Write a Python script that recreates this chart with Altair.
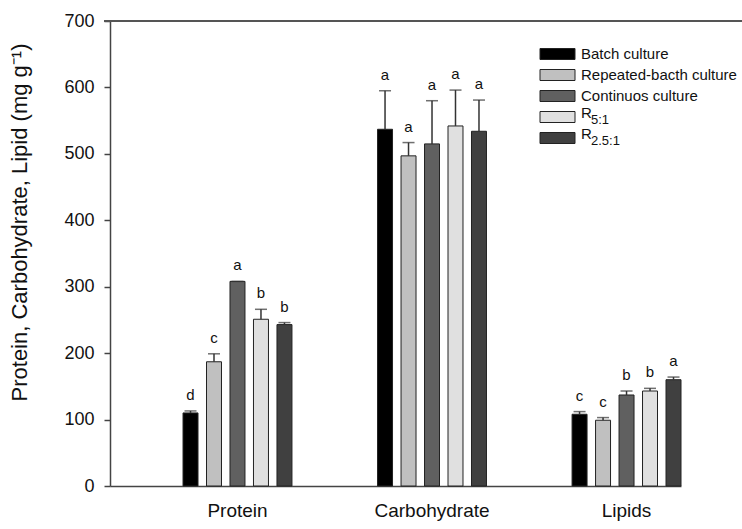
import altair as alt
import pandas as pd

groups = ["Protein", "Carbohydrate", "Lipids"]
series = ["Batch culture", "Repeated-bacth culture", "Continuos culture", "R5:1", "R2.5:1"]
legend_main = ["Batch culture", "Repeated-bacth culture", "Continuos culture", "R", "R"]
legend_sub = ["", "", "", "5:1", "2.5:1"]
colors = ["#000000", "#c0c0c0", "#606060", "#e0e0e0", "#404040"]

protein_mean = [110, 187, 308, 251, 243]
carb_mean = [537, 497, 515, 542, 534]
lipid_mean = [108, 99, 137, 143, 160]
protein_err = [3, 12, 0, 15, 3]
carb_err = [58, 20, 65, 54, 47]
lipid_err = [4, 4, 6, 4, 4]
protein_letters = ["d", "c", "a", "b", "b"]
carb_letters = ["a", "a", "a", "a", "a"]
lipid_letters = ["c", "c", "b", "b", "a"]

rows = []
for g, means, errs, lets in [
    ("Protein", protein_mean, protein_err, protein_letters),
    ("Carbohydrate", carb_mean, carb_err, carb_letters),
    ("Lipids", lipid_mean, lipid_err, lipid_letters),
]:
    for s, m, e, l in zip(series, means, errs, lets):
        rows.append({"group": g, "series": s, "mean": m, "upper": m + e, "letter": l})
df = pd.DataFrame(rows)

W, H = 571, 465
FONT = "Liberation Sans"

xenc = alt.X("group:N", sort=groups,
             scale=alt.Scale(paddingInner=0.44, paddingOuter=0.1877, align=1),
             axis=alt.Axis(title=None, ticks=False, labelAngle=0, labelFontSize=19,
                           labelPadding=15, labelColor="#111", labelFont=FONT,
                           domainColor="#444", domainWidth=1.5))
xoff = alt.XOffset("series:N", sort=series, scale=alt.Scale(paddingInner=0.362, paddingOuter=0))
yscale = alt.Scale(domain=[0, 700], nice=False)
yaxis = alt.Axis(title="Protein, Carbohydrate, Lipid (mg g\u207b\u00b9)", values=list(range(0, 701, 100)),
                 grid=False, tickSize=6, tickColor="#444", tickWidth=1.5, domainColor="#444",
                 domainWidth=1.5, labelFontSize=18, labelPadding=10, labelColor="#111",
                 labelFont=FONT, titleFont=FONT, titleFontSize=22, titleFontWeight="normal",
                 titleColor="#111", titleX=-91, titleY=201, titleBaseline="middle")
color = alt.Color("series:N", scale=alt.Scale(domain=series, range=colors), legend=None)

base = alt.Chart(df)
bars = base.mark_bar(stroke="#222", strokeWidth=1).encode(
    x=xenc, xOffset=xoff, y=alt.Y("mean:Q", scale=yscale, axis=yaxis), color=color)
err = base.mark_rule(color="#333", strokeWidth=1.5).encode(
    x=xenc, xOffset=xoff, y=alt.Y("mean:Q", scale=yscale), y2="upper:Q")
cap = base.mark_tick(color="#333", thickness=1.5, size=12, orient="horizontal").encode(
    x=xenc, xOffset=xoff, y=alt.Y("upper:Q", scale=yscale))
letters = base.mark_text(fontSize=15, font=FONT, color="#111", dy=-11, baseline="alphabetic").encode(
    x=xenc, xOffset=xoff, y=alt.Y("upper:Q", scale=yscale), text="letter:N")
top = alt.Chart(pd.DataFrame({"v": [700]})).mark_rule(color="#555", strokeWidth=2).encode(
    y=alt.Y("v:Q", scale=yscale), x=alt.value(-6), x2=alt.value(W + 70))

main = alt.layer(bars, err, cap, letters, top)

leg = pd.DataFrame({"series": series, "main": legend_main, "sub": legend_sub, "i": range(len(series))})
leg["yc"] = 33 + 21 * leg["i"]
leg["y1"] = leg["yc"] - 5.5
leg["y2"] = leg["yc"] + 5.5
leg["ym"] = leg["yc"] - leg["sub"].map(lambda s: 4 if s else 0)
leg["ys"] = leg["yc"] + 3
lbase = alt.Chart(leg)
lrect = lbase.mark_rect(stroke="#222", strokeWidth=1).encode(
    x=alt.value(430), x2=alt.value(465),
    y=alt.Y("y1:Q", scale=None, axis=None), y2="y2:Q", color=color)
ltext = lbase.mark_text(align="left", baseline="middle", fontSize=15, font=FONT, color="#111").encode(
    x=alt.value(471), y=alt.Y("ym:Q", scale=None, axis=None), text="main:N")
lsub = lbase.transform_filter("datum.sub != ''").mark_text(
    align="left", baseline="middle", fontSize=13, font=FONT, color="#111").encode(
    x=alt.value(481), y=alt.Y("ys:Q", scale=None, axis=None), text="sub:N")
legend = alt.layer(lrect, ltext, lsub)

chart = alt.layer(main, legend).resolve_scale(y="independent").properties(
    width=W, height=H, autosize=alt.AutoSizeParams(type="none"),
    padding={"left": 110, "top": 21, "right": 61, "bottom": 43},
).configure_view(stroke=None)

chart.save("out.html", embed_options={"renderer": "svg", "actions": False})
